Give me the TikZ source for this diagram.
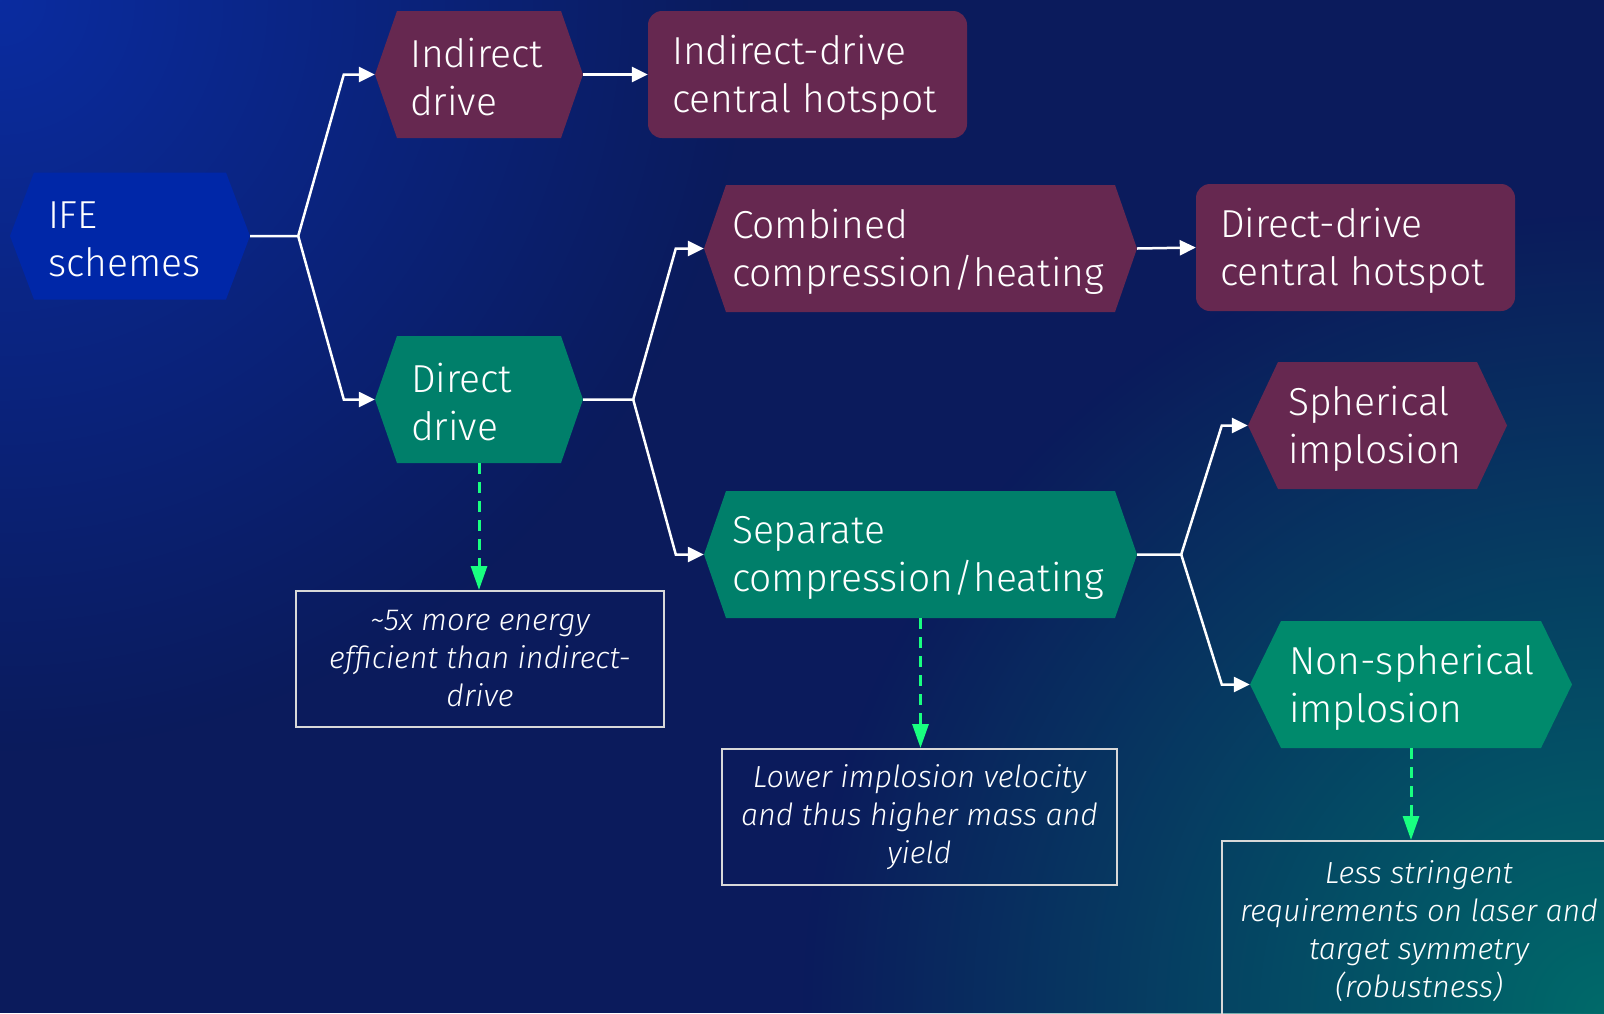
\documentclass[tikz,border=0pt]{standalone}
\usepackage{fontspec}
\setmainfont{Fira Sans}[UprightFont=* Light, ItalicFont=* Light Italic]
\usetikzlibrary{arrows.meta,fadings}
\definecolor{bgnavy}{HTML}{0B1B5C}
\definecolor{bgblue}{HTML}{0A2CA0}
\definecolor{bgteal}{HTML}{006A6A}
\definecolor{ifeblue}{HTML}{0027A8}
\definecolor{maroon}{HTML}{662850}
\definecolor{teal1}{HTML}{007F6A}
\definecolor{teal2}{HTML}{008A6C}
\definecolor{dashgreen}{HTML}{19FF80}
\definecolor{boxedge}{HTML}{D8D8D8}
\tikzfading[name=softfade, inner color=transparent!0, outer color=transparent!100]
\tikzset{
  hexa/.style n args={3}{rectangle, draw=none, inner sep=0pt, minimum width=#2, minimum height=127pt,
    path picture={\fill[#1] (path picture bounding box.west)
      -- ([xshift=#3]path picture bounding box.north west)
      -- ([xshift=-#3]path picture bounding box.north east)
      -- (path picture bounding box.east)
      -- ([xshift=-#3]path picture bounding box.south east)
      -- ([xshift=#3]path picture bounding box.south west) -- cycle;}},
  rbox/.style={rectangle, rounded corners=14pt, fill=maroon, draw=none, minimum width=319pt, minimum height=127pt, inner sep=0pt},
  lbl/.style={anchor=west, align=left, text=white, inner sep=0pt, yshift=-3pt, font=\fontsize{39}{48}\selectfont},
  note/.style={rectangle, draw=boxedge, line width=2pt, align=center, text=white, inner sep=0pt,
    font=\fontsize{30.5}{38}\selectfont\itshape},
  conn/.style={draw=white, line width=2.5pt, -{Triangle[length=16pt,width=15pt]}},
  dconn/.style={draw=dashgreen, line width=3pt, dash pattern=on 11pt off 8pt, -{Triangle[length=24pt,width=16pt]}}
}
\begin{document}
\begin{tikzpicture}[x=1pt,y=-1pt]
% background
\fill[bgnavy] (0,0) rectangle (1604,1013);
\begin{scope}
  \clip (0,0) rectangle (1604,1013);
  \fill[bgblue, path fading=softfade] (0,0) circle[radius=750];
  \fill[bgteal, path fading=softfade] (1604,1013) circle[radius=800];
\end{scope}
\useasboundingbox (0,0) rectangle (1604,1013);

% shapes
\node[hexa={ifeblue}{240pt}{24pt}] (ife) at (130,236) {};
\node[lbl] (ifet) at ([xshift=38pt]ife.west) {IFE\\schemes};

\node[hexa={maroon}{208pt}{22pt}] (ind) at (479,74.5) {};
\node[lbl] (indt) at ([xshift=35pt]ind.west) {Indirect\\drive};

\node[rbox] (idch) at (807.5,74.5) {};
\node[lbl] (idcht) at ([xshift=24pt]idch.west) {Indirect-drive\\central hotspot};

\node[hexa={teal1}{208pt}{22pt}] (dir) at (479,399.5) {};
\node[lbl] (dirt) at ([xshift=36pt]dir.west) {Direct\\drive};

\node[hexa={maroon}{433pt}{22pt}] (comb) at (920.5,248.5) {};
\node[lbl] (combt) at ([xshift=28pt]comb.west) {Combined\\compression/heating};

\node[rbox] (ddch) at (1355.5,247.5) {};
\node[lbl] (ddcht) at ([xshift=24pt]ddch.west) {Direct-drive\\central hotspot};

\node[hexa={teal1}{433pt}{22pt}] (sep) at (920.5,554.5) {};
\node[lbl] (sept) at ([xshift=28pt]sep.west) {Separate\\compression/heating};

\node[hexa={maroon}{259pt}{30pt}] (sph) at (1377.5,425.5) {};
\node[lbl] (spht) at ([xshift=40pt]sph.west) {Spherical\\implosion};

\node[hexa={teal2}{322pt}{31pt}] (nsph) at (1411,684.5) {};
\node[lbl] (nspht) at ([xshift=39pt]nsph.west) {Non-spherical\\implosion};

% notes
\node[note, minimum width=368pt, minimum height=136pt] (n1) at (480,659)
  {\textasciitilde5x more energy\\efficient than indirect-\\drive};
\node[note, minimum width=395pt, minimum height=136pt] (n2) at (919.5,817)
  {Lower implosion velocity\\and thus higher mass and\\yield};
\node[note, minimum width=394pt, minimum height=180pt] (n3) at (1419,931)
  {Less stringent\\requirements on laser and\\target symmetry\\(robustness)};

% connectors
\coordinate (j1) at ([xshift=48pt]ife.east);
\draw[conn] (ife.east) -- (j1) -- ([xshift=-31pt]ind.west) -- (ind.west);
\draw[conn] (j1) -- ([xshift=-31pt]dir.west) -- (dir.west);
\draw[conn] (ind.east) -- (idch.west);

\coordinate (j2) at ([xshift=50pt]dir.east);
\draw[conn] (dir.east) -- (j2) -- ([xshift=-28pt]comb.west) -- (comb.west);
\draw[conn] (j2) -- ([xshift=-28pt]sep.west) -- (sep.west);
\draw[conn] (comb.east) -- (ddch.west);

\coordinate (j3) at ([xshift=44pt]sep.east);
\draw[conn] (sep.east) -- (j3) -- ([xshift=-26pt]sph.west) -- (sph.west);
\draw[conn] (j3) -- ([xshift=-28pt]nsph.west) -- (nsph.west);

\draw[dconn] (dir.south) -- (dir.south |- n1.north);
\draw[dconn] (sep.south) -- (sep.south |- n2.north);
\draw[dconn] (nsph.south) -- (nsph.south |- n3.north);
\end{tikzpicture}
\end{document}
